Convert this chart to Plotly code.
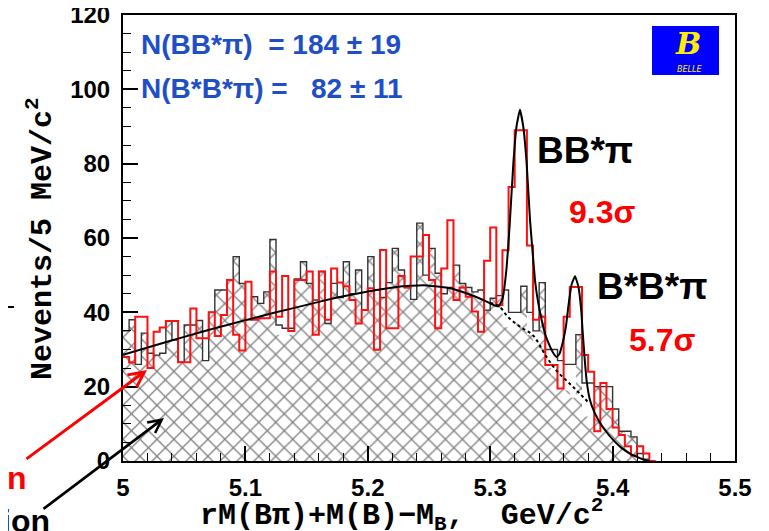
import plotly.graph_objects as go

# ---------------- data ----------------
BIN_START = 5.0
BIN_WIDTH = 0.005

# black (wrong-sign) histogram outline, 5 MeV bins from 5.000
black_counts = [35, 38, 26, 34.4, 29, 28.5, 29, 37.7, 32.6, 26.6,
                36.6, 36.6, 37.8, 27, 40, 46, 46, 48.7, 55, 47.8,
                38, 44.2, 42.4, 45.5, 59.6, 36.6, 35.7, 35.7, 49, 53.6,
                47.8, 43.3, 51, 37, 47.8, 44, 53.6, 45, 51.4, 40.6,
                55, 46, 44, 48, 57.2, 51.4, 46.7, 43.5, 64, 50,
                57.2, 50.5, 45, 46.7, 52.7, 47.8, 46.7, 45.5, 46, 40.6,
                43.8, 44.5, 46, 40, 40, 47, 40, 35, 48, 30,
                30, 27, 26, 26, 34, 21, 21, 20, 20, 20,
                14, 8, 8, 6.5, 2, 0.5, 0]
# top of the cross-hatched area (equals the outline except in a few bins)
hatch_counts = [35, 38, 26, 34.4, 29, 28.5, 29, 37.7, 32.6, 26.6,
                36.6, 36.6, 37.8, 27, 40, 46, 46, 48.7, 55, 47.8,
                38, 44.2, 42.4, 45.5, 59.6, 34, 34, 34, 49, 53.6,
                47.8, 43.3, 51, 37, 47.8, 44, 53.6, 45, 51.4, 40.6,
                55, 46, 44, 48, 57.2, 51.4, 46.7, 43.5, 64, 50,
                57.2, 50.5, 45, 46.7, 52.7, 47.8, 46.7, 45.5, 46, 40.6,
                43.8, 44.5, 36, 36, 37, 47, 34, 31, 48, 25,
                23, 20, 19, 17, 34, 12, 10, 20, 20, 17,
                14, 8, 7, 6.5, 2, 0.5, 0]
# red (right-sign) histogram
red_counts = [28, 26.5, 38.8, 38.8, 25, 34.8, 35.9, 37.7, 37.7, 26.6,
              26.6, 41, 33, 33, 40, 33.6, 39.3, 48.7, 34, 29.7,
              48.2, 38, 38.4, 38.4, 51, 38.8, 49.8, 35, 48.7, 48.7,
              51, 34, 51, 38, 51.8, 48, 47, 43.3, 37, 40.6,
              46.5, 29.9, 56.8, 35.7, 35.7, 49.8, 46.7, 55, 55, 60.8,
              48.7, 35.7, 51.8, 64.8, 43.3, 46.7, 44.2, 40.2, 34.8, 53.9,
              62.8, 42, 56.7, 73.7, 89, 89, 58, 38, 38.8, 25.8,
              25.8, 19.5, 38.8, 46.8, 46.8, 28.5, 24, 8, 21, 14,
              9, 7, 4, 1.5, 4, 2, 0]

# fit curve (signal + background)
fit_x = [5.000, 5.025, 5.050, 5.075, 5.100, 5.125, 5.150, 5.175, 5.200, 5.225,
         5.245, 5.265, 5.280, 5.295, 5.303, 5.307, 5.310, 5.3134, 5.316, 5.3189,
         5.3215, 5.3243, 5.327, 5.3298, 5.3325, 5.3366, 5.339, 5.342, 5.345, 5.349,
         5.352, 5.3543, 5.3565, 5.3597, 5.362, 5.3638, 5.3665, 5.3693, 5.372, 5.3745,
         5.3755, 5.3775, 5.379, 5.3815, 5.385, 5.3897, 5.395, 5.4006, 5.407, 5.4142,
         5.420, 5.425, 5.430]
fit_y = [28.6, 31.0, 33.4, 35.7, 37.9, 40.0, 42.0, 44.0, 45.6, 46.9,
         47.3, 46.6, 45.2, 43.2, 41.9, 41.7, 43.5, 52, 64, 80,
         90, 94.5, 90, 80, 65, 48.6, 43, 38, 34, 30.7,
         28.8, 28, 28.8, 32.5, 36.5, 41.5, 47.5, 49.7, 47, 40,
         35, 26.2, 21, 16.4, 13.2, 10.3, 7.8, 5.6, 3.6, 2.0,
         1.1, 0.4, 0]
# background-only component (dotted)
bkg_x = [5.300, 5.307, 5.315, 5.325, 5.335, 5.346, 5.355, 5.365, 5.373, 5.381]
bkg_y = [42.5, 41.7, 38.6, 36.0, 33.8, 28.0, 24.0, 20.8, 18.2, 15.5]

x_tick_vals = [5.0, 5.1, 5.2, 5.3, 5.4, 5.5]
x_tick_text = ["5", "5.1", "5.2", "5.3", "5.4", "5.5"]
y_tick_vals = [0, 20, 40, 60, 80, 100, 120]

yield_labels = ["N(BB*π)\u00a0\u00a0= 184 ± 19", "N(B*B*π) =\u00a0\u00a0\u00a082 ± 11"]
peak_labels = ["BB*π", "B*B*π"]
signif_labels = ["9.3σ", "5.7σ"]

# ---------------- helpers ----------------
# the page body adds an 8 px offset; plot area placed at screen x 123..735, y 15..461
OFF = 8
W, H = 769 - OFF, 531 - OFF
L, T = 123 - OFF, 15 - OFF
R = W - (735 - OFF)
B = H - (461 - OFF)
PW, PH = 735 - 123, 461 - 15


def px(x):
    return (x - 123) / PW


def py(y):
    return (461 - y) / PH


def step_xy(counts):
    edges = [BIN_START + BIN_WIDTH * i for i in range(len(counts) + 1)]
    return edges, list(counts) + [counts[-1]]


fig = go.Figure()

hx, hy = step_xy(hatch_counts)
fig.add_trace(go.Scatter(
    x=hx, y=hy, mode="lines", line=dict(shape="hv", width=0, color="rgba(0,0,0,0)"),
    fill="tozeroy", fillcolor="rgba(0,0,0,0)",
    fillpattern=dict(shape="x", size=12, solidity=0.2, fgcolor="#000000", bgcolor="rgba(255,255,255,0)"),
    hoverinfo="skip", showlegend=False))

bx, by = step_xy(black_counts)
fig.add_trace(go.Scatter(x=bx, y=by, mode="lines",
                         line=dict(shape="hv", width=1.4, color="#333333"),
                         showlegend=False))

rx, ry = step_xy(red_counts)
fig.add_trace(go.Scatter(x=rx, y=ry, mode="lines",
                         line=dict(shape="hv", width=2.0, color="#ff1010"),
                         showlegend=False))

fig.add_trace(go.Scatter(x=bkg_x, y=bkg_y, mode="lines",
                         line=dict(color="black", width=2, dash="dot", shape="spline"),
                         showlegend=False))
fig.add_trace(go.Scatter(x=fit_x, y=fit_y, mode="lines",
                         line=dict(color="black", width=2, shape="spline", smoothing=0.35),
                         showlegend=False))

tickfont = dict(family="Liberation Sans", size=24, color="black", weight="bold")

fig.update_xaxes(range=[5.0, 5.5], tickvals=x_tick_vals, ticktext=x_tick_text,
                 ticks="inside", ticklen=15, tickwidth=1.5, tickcolor="black",
                 minor=dict(dtick=0.02, tick0=5.0, ticks="inside", ticklen=8, tickwidth=1.2, tickcolor="black"),
                 showline=True, linewidth=2, linecolor="black", mirror=True, automargin=False,
                 showgrid=False, zeroline=False, tickfont=tickfont, ticklabelstandoff=4,
                 ticklabeloverflow="allow")
fig.update_yaxes(range=[0, 120], tickvals=y_tick_vals,
                 ticks="inside", ticklen=15, tickwidth=1.5, tickcolor="black",
                 minor=dict(dtick=5, tick0=0, ticks="inside", ticklen=8, tickwidth=1.2, tickcolor="black"),
                 showline=True, linewidth=2, linecolor="black", mirror=True, automargin=False,
                 showgrid=False, zeroline=False, tickfont=tickfont, ticklabelstandoff=6,
                 ticklabeloverflow="allow")

ann = []
blue = "#1f4fc6"
for txt, yy in zip(yield_labels, [45, 88]):
    ann.append(dict(text=txt, x=px(139), y=py(yy), xanchor="left", yanchor="middle",
                    font=dict(family="Liberation Sans", size=28, color=blue, weight="bold")))
for txt, (xx, yy) in zip(peak_labels, [(535, 150), (595, 286)]):
    ann.append(dict(text=txt, x=px(xx), y=py(yy), xanchor="left", yanchor="middle",
                    font=dict(family="Liberation Sans", size=37, color="black", weight="bold")))
for txt, (xx, yy) in zip(signif_labels, [(567, 212), (627, 340)]):
    ann.append(dict(text=txt, x=px(xx), y=py(yy), xanchor="left", yanchor="middle",
                    font=dict(family="Liberation Sans", size=32, color="#ff0000", weight="bold")))

# axis titles
ann.append(dict(text="Nevents/5 MeV/c<sup>2</sup>", x=px(40), y=py(239), textangle=-90,
                xanchor="center", yanchor="middle",
                font=dict(family="Liberation Mono", size=30, color="black", weight="bold")))
ann.append(dict(text="rM(Bπ)+M(B)−M<sub>B</sub>,\u00a0\u00a0GeV/c<sup>2</sup>", x=px(401), y=py(515),
                xanchor="center", yanchor="middle",
                font=dict(family="Liberation Mono", size=30, color="black", weight="bold")))

# cut-off slide labels with arrows
ann.append(dict(text="n", x=px(29), y=py(478), xanchor="right", yanchor="middle",
                font=dict(family="Liberation Sans", size=32, color="#ff0000", weight="bold")))
ann.append(dict(text="ion", x=px(52), y=py(521), xanchor="right", yanchor="middle",
                font=dict(family="Liberation Sans", size=32, color="black", weight="bold")))
ann.append(dict(text="", x=px(147), y=py(370), ax=-122, ay=90, showarrow=True,
                arrowhead=5, arrowsize=1.0, arrowwidth=3, arrowcolor="#ff0000", standoff=0))
ann.append(dict(text="", x=px(164), y=py(418), ax=-122, ay=92, showarrow=True,
                arrowhead=5, arrowsize=1.0, arrowwidth=2.6, arrowcolor="black", standoff=0))

# Belle logo
ann.append(dict(text="<i>B</i>", x=px(688), y=py(44), xanchor="center", yanchor="middle",
                font=dict(family="DejaVu Serif", size=30, color="#ffee00", weight="bold")))
ann.append(dict(text="<i>BELLE</i>", x=px(689), y=py(69), xanchor="center", yanchor="middle",
                font=dict(family="DejaVu Sans", size=8, color="#ffee00")))
for a in ann:
    a.setdefault("xref", "paper")
    a.setdefault("yref", "paper")
    a.setdefault("showarrow", False)

shapes = [
    dict(type="rect", xref="paper", yref="paper", x0=px(652), x1=px(719), y0=py(75), y1=py(26),
         fillcolor="#0000ff", line=dict(width=0), layer="above"),
    dict(type="line", xref="paper", yref="paper", x0=px(8), x1=px(14), y0=py(307), y1=py(307),
         line=dict(color="black", width=2)),
]

fig.update_layout(width=W, height=H, autosize=False,
                  margin=dict(l=L, r=R, t=T, b=B),
                  paper_bgcolor="white", plot_bgcolor="white",
                  annotations=ann, shapes=shapes, showlegend=False)

fig.write_html("out.html")
